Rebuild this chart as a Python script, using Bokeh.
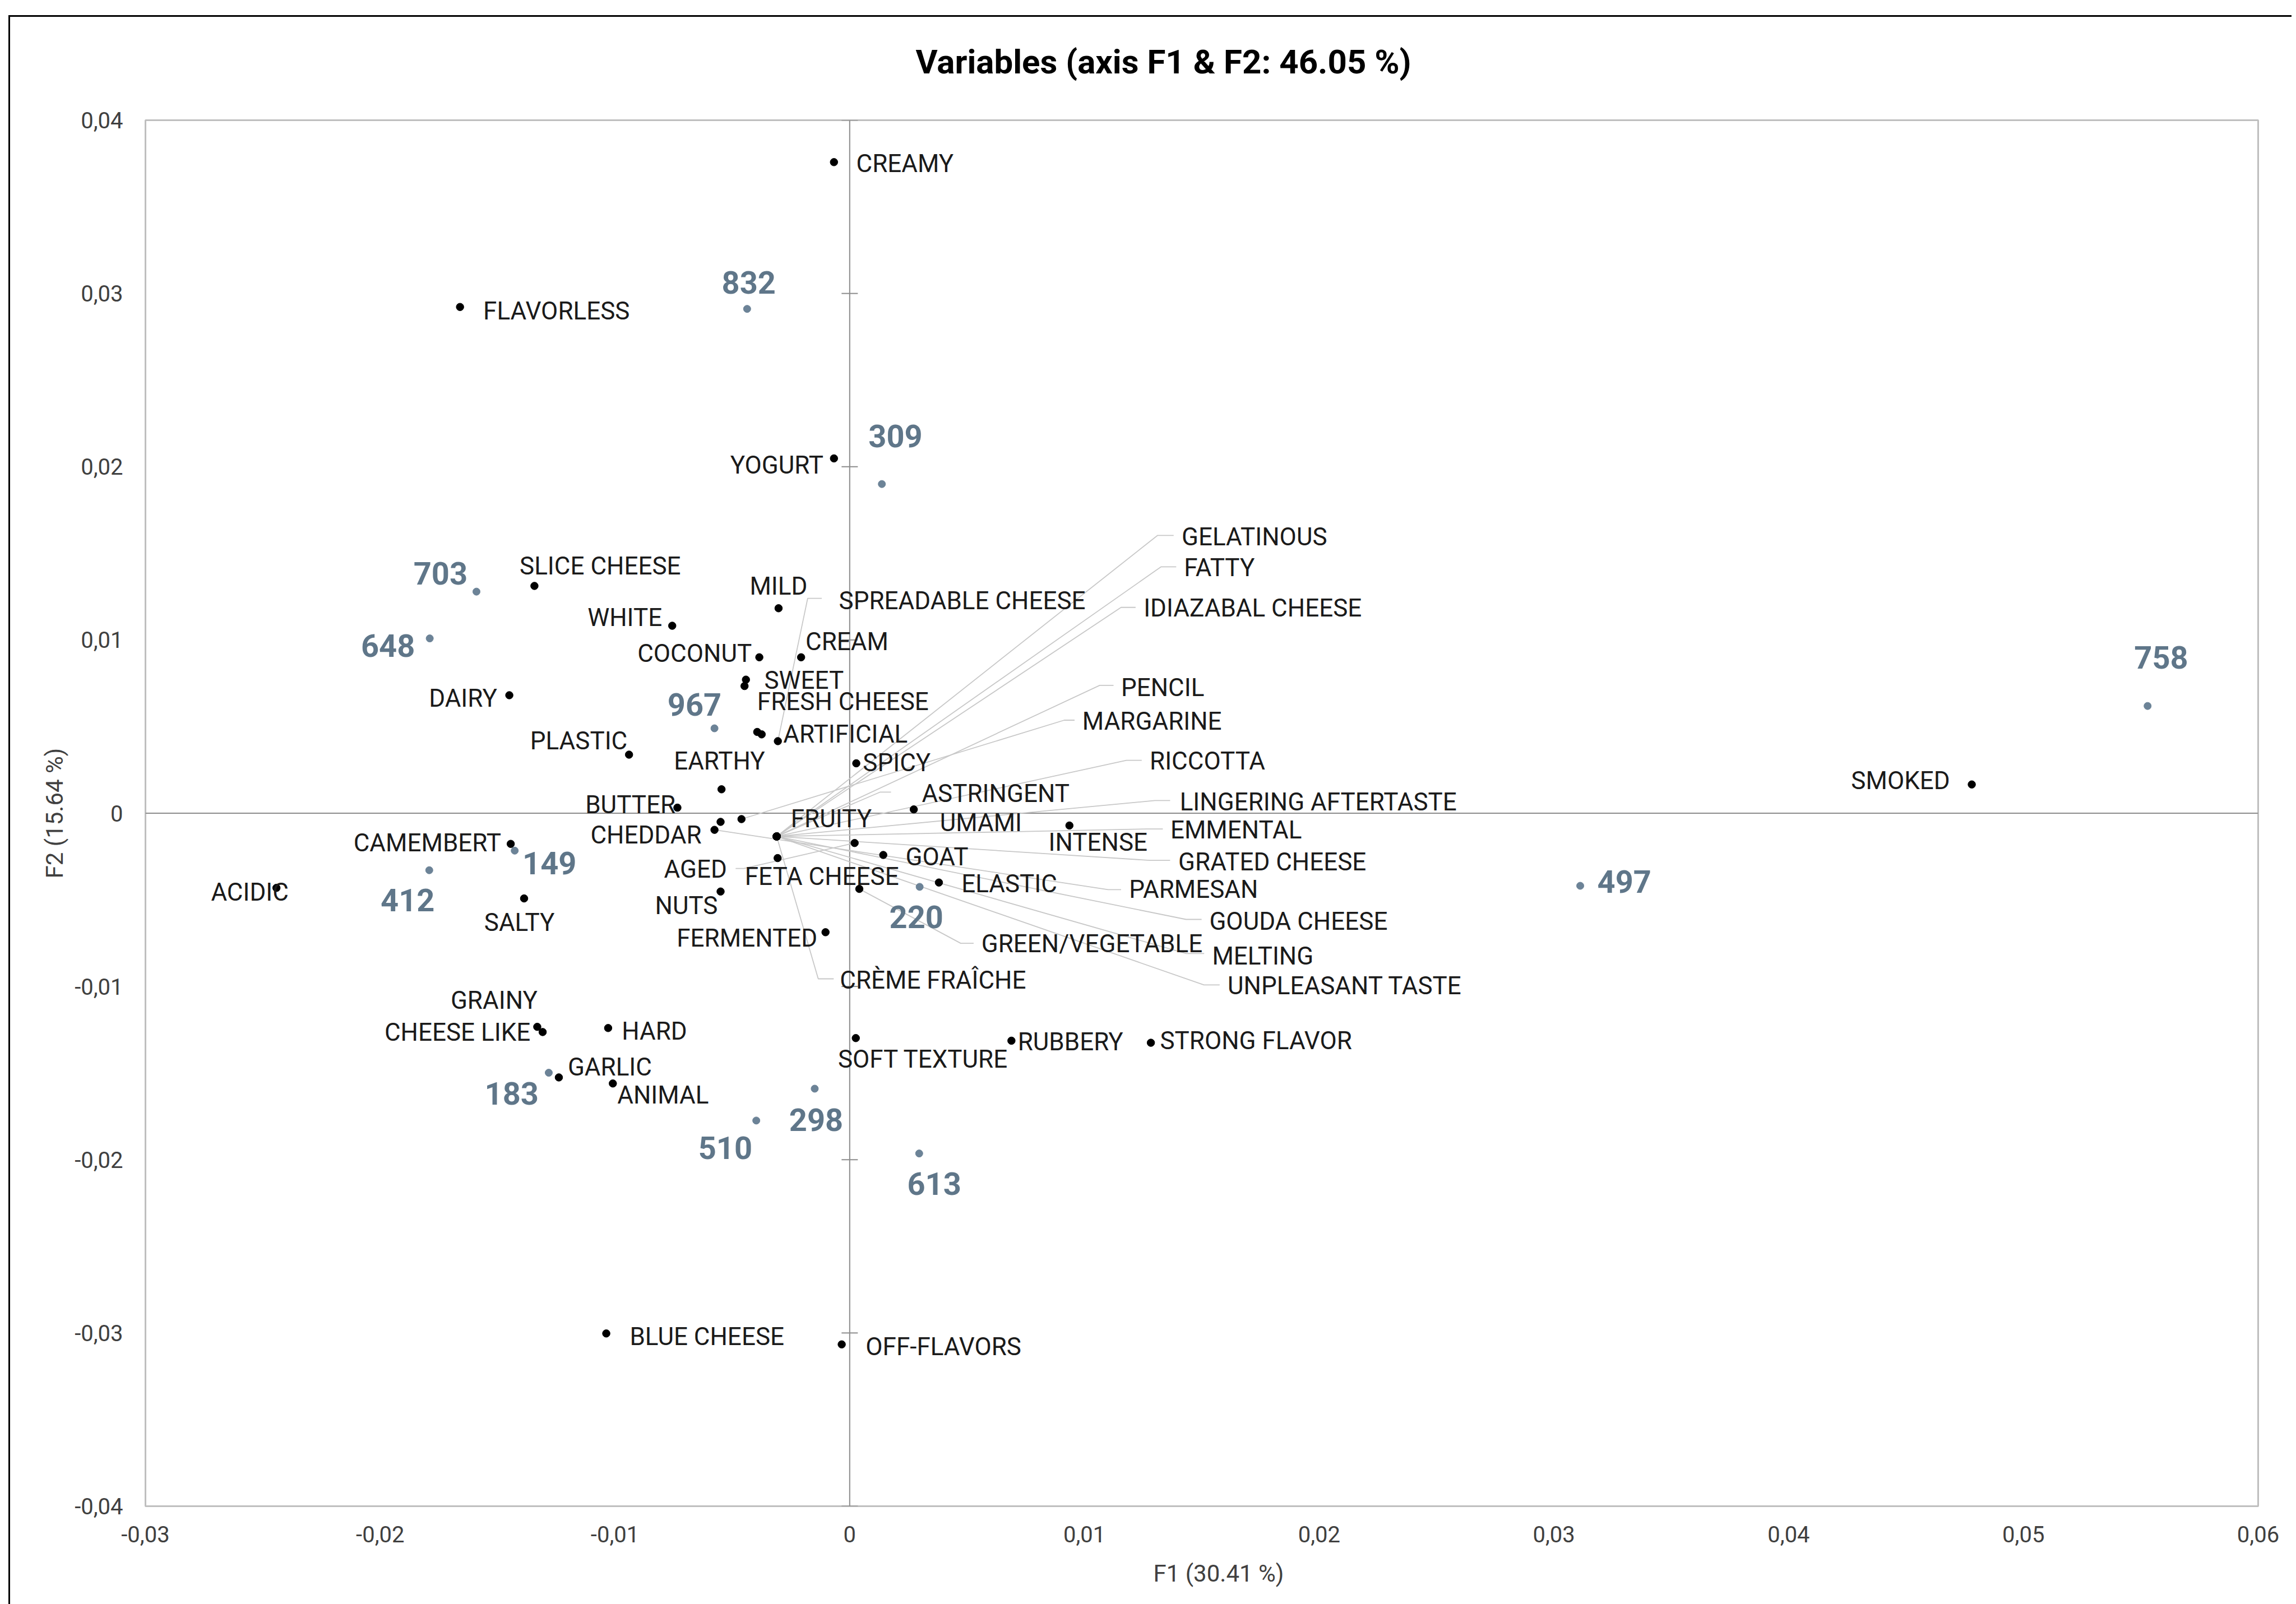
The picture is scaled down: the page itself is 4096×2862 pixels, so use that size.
from bokeh.plotting import figure
from bokeh.models import (ColumnDataSource, Span, FixedTicker,
                          CustomJSTickFormatter, Range1d, Title)
from bokeh.core.properties import value
from bokeh.embed import file_html
from bokeh.resources import INLINE

# ---------------- data ----------------
title_text = "Variables (axis F1 & F2: 46.05 %)"
x_title = "F1  (30.41 %)"
y_title = "F2 (15.64 %)"

x_ticks = [-0.03, -0.02, -0.01, 0.0, 0.01, 0.02, 0.03, 0.04, 0.05, 0.06]
y_ticks = [-0.04, -0.03, -0.02, -0.01, 0.0, 0.01, 0.02, 0.03, 0.04]

HUB = (-0.00311, -0.00134)   # many variables sit on this same spot

var_names = ["CREAMY", "FLAVORLESS", "YOGURT", "SLICE CHEESE", "MILD",
             "SPREADABLE CHEESE", "WHITE", "COCONUT", "CREAM", "SWEET",
             "FRESH CHEESE", "DAIRY", "ARTIFICIAL", "", "PLASTIC", "EARTHY",
             "SPICY", "BUTTER", "ASTRINGENT", "CHEDDAR", "FRUITY", "UMAMI",
             "INTENSE", "CAMEMBERT", "GOAT", "AGED", "FETA CHEESE", "ELASTIC",
             "ACIDIC", "SALTY", "NUTS", "FERMENTED", "CRÈME FRAÎCHE",
             "GELATINOUS", "FATTY", "IDIAZABAL CHEESE", "PENCIL", "MARGARINE",
             "RICCOTTA", "LINGERING AFTERTASTE", "EMMENTAL", "GRATED CHEESE",
             "PARMESAN", "GOUDA CHEESE", "GREEN/VEGETABLE", "MELTING",
             "UNPLEASANT TASTE", "SMOKED", "GRAINY", "CHEESE LIKE", "HARD",
             "GARLIC", "ANIMAL", "SOFT TEXTURE", "RUBBERY", "STRONG FLAVOR",
             "BLUE CHEESE", "OFF-FLAVORS"]
var_f1 = [-0.00067, -0.01660, -0.00067, -0.01343, -0.00303,
          -0.00306, -0.00756, -0.00385, -0.00207, -0.00442,
          -0.00448, -0.01450, -0.00375, -0.00394, -0.00940, -0.00546,
          0.00028, -0.00734, HUB[0], -0.00550, HUB[0], 0.00273,
          0.00936, -0.01444, 0.00143, 0.00021, -0.00307, 0.00380,
          -0.02442, -0.01387, -0.00550, -0.00103, HUB[0],
          HUB[0], HUB[0], HUB[0], HUB[0], -0.00461,
          HUB[0], HUB[0], HUB[0], HUB[0],
          -0.00576, HUB[0], 0.00041, HUB[0],
          HUB[0], 0.04780, -0.01331, -0.01308, -0.01029,
          -0.01239, -0.01009, 0.00026, 0.00689, 0.01283,
          -0.01037, -0.00034]
var_f2 = [0.03758, 0.02922, 0.02048, 0.01312, 0.01183,
          0.00416, 0.01082, 0.00900, 0.00900, 0.00771,
          0.00734, 0.00681, 0.00455, 0.00469, 0.00338, 0.00138,
          0.00288, 0.00032, HUB[1], -0.00050, HUB[1], 0.00022,
          -0.00071, -0.00177, -0.00241, -0.00172, -0.00259, -0.00400,
          -0.00431, -0.00492, -0.00452, -0.00687, HUB[1],
          HUB[1], HUB[1], HUB[1], HUB[1], -0.00034,
          HUB[1], HUB[1], HUB[1], HUB[1],
          -0.00096, HUB[1], -0.00437, HUB[1],
          HUB[1], 0.00166, -0.01233, -0.01263, -0.01240,
          -0.01525, -0.01560, -0.01298, -0.01313, -0.01325,
          -0.03003, -0.03066]

obs_names = ["832", "309", "703", "648", "967", "149", "412", "220",
             "183", "510", "298", "613", "758", "497"]
obs_f1 = [-0.00437, 0.00137, -0.01590, -0.01789, -0.00576, -0.01427,
          -0.01791, 0.00298, -0.01282, -0.00398, -0.00149, 0.00296,
          0.05529, 0.03112]
obs_f2 = [0.02911, 0.01900, 0.01279, 0.01009, 0.00490, -0.00216,
          -0.00329, -0.00425, -0.01498, -0.01774, -0.01590, -0.01964,
          0.00619, -0.00419]

# ---------------- label layout (where each name is written) ----------------
# name: (label x, label y, alignment)
var_label_at = {
    "CREAMY": (0.00028, 0.03750, "left"),
    "FLAVORLESS": (-0.01561, 0.02898, "left"),
    "YOGURT": (-0.00112, 0.02009, "right"),
    "SLICE CHEESE": (-0.01406, 0.01427, "left"),
    "MILD": (-0.00426, 0.01309, "left"),
    "SPREADABLE CHEESE": (-0.00046, 0.01227, "left"),
    "WHITE": (-0.00799, 0.01128, "right"),
    "COCONUT": (-0.00417, 0.00922, "right"),
    "CREAM": (-0.00188, 0.00991, "left"),
    "SWEET": (-0.00364, 0.00766, "left"),
    "FRESH CHEESE": (-0.00394, 0.00644, "left"),
    "DAIRY": (-0.01502, 0.00663, "right"),
    "ARTIFICIAL": (-0.00283, 0.00455, "left"),
    "PLASTIC": (-0.00947, 0.00416, "right"),
    "EARTHY": (-0.00555, 0.00300, "center"),
    "SPICY": (0.00056, 0.00291, "left"),
    "BUTTER": (-0.00742, 0.00047, "right"),
    "ASTRINGENT": (0.00307, 0.00113, "left"),
    "CHEDDAR": (-0.00631, -0.00125, "right"),
    "FRUITY": (-0.00251, -0.00031, "left"),
    "UMAMI": (0.00384, -0.00056, "left"),
    "INTENSE": (0.00847, -0.00169, "left"),
    "CAMEMBERT": (-0.01485, -0.00171, "right"),
    "GOAT": (0.00238, -0.00253, "left"),
    "AGED": (-0.00523, -0.00322, "right"),
    "FETA CHEESE": (-0.00447, -0.00366, "left"),
    "ELASTIC": (0.00476, -0.00409, "left"),
    "ACIDIC": (-0.02390, -0.00456, "right"),
    "SALTY": (-0.01407, -0.00630, "center"),
    "NUTS": (-0.00562, -0.00534, "right"),
    "FERMENTED": (-0.00138, -0.00722, "right"),
    "CRÈME FRAÎCHE": (-0.00042, -0.00963, "left"),
    "GELATINOUS": (0.01414, 0.01595, "left"),
    "FATTY": (0.01424, 0.01417, "left"),
    "IDIAZABAL CHEESE": (0.01252, 0.01184, "left"),
    "PENCIL": (0.01156, 0.00725, "left"),
    "MARGARINE": (0.00991, 0.00532, "left"),
    "RICCOTTA": (0.01278, 0.00300, "left"),
    "LINGERING AFTERTASTE": (0.01406, 0.00066, "left"),
    "EMMENTAL": (0.01366, -0.00098, "left"),
    "GRATED CHEESE": (0.01400, -0.00280, "left"),
    "PARMESAN": (0.01190, -0.00441, "left"),
    "GOUDA CHEESE": (0.01532, -0.00624, "left"),
    "GREEN/VEGETABLE": (0.00561, -0.00753, "left"),
    "MELTING": (0.01544, -0.00824, "left"),
    "UNPLEASANT TASTE": (0.01610, -0.00995, "left"),
    "SMOKED": (0.04687, 0.00188, "right"),
    "GRAINY": (-0.01330, -0.01080, "right"),
    "CHEESE LIKE": (-0.01360, -0.01264, "right"),
    "HARD": (-0.00971, -0.01259, "left"),
    "GARLIC": (-0.01201, -0.01466, "left"),
    "ANIMAL": (-0.00990, -0.01627, "left"),
    "SOFT TEXTURE": (-0.00050, -0.01421, "left"),
    "RUBBERY": (0.00716, -0.01319, "left"),
    "STRONG FLAVOR": (0.01322, -0.01313, "left"),
    "BLUE CHEESE": (-0.00937, -0.03021, "left"),
    "OFF-FLAVORS": (0.00068, -0.03080, "left"),
}
# leader lines: name: (elbow x, elbow y, end of the short horizontal stub)
leader_at = {
    "SPREADABLE CHEESE": (-0.00179, 0.01240, -0.00119),
    "ASTRINGENT": (0.00130, 0.00122, 0.00176),
    "AGED": (-0.00451, -0.00319, -0.00486),
    "CRÈME FRAÎCHE": (-0.00134, -0.00956, -0.00068),
    "GELATINOUS": (0.01311, 0.01603, 0.01380),
    "FATTY": (0.01326, 0.01422, 0.01391),
    "IDIAZABAL CHEESE": (0.01156, 0.01188, 0.01218),
    "PENCIL": (0.01065, 0.00738, 0.01124),
    "MARGARINE": (0.00914, 0.00537, 0.00958),
    "RICCOTTA": (0.01179, 0.00305, 0.01244),
    "LINGERING AFTERTASTE": (0.01300, 0.00073, 0.01365),
    "EMMENTAL": (0.01267, -0.00091, 0.01334),
    "GRATED CHEESE": (0.01278, -0.00272, 0.01365),
    "PARMESAN": (0.01101, -0.00441, 0.01156),
    "GOUDA CHEESE": (0.01433, -0.00613, 0.01499),
    "GREEN/VEGETABLE": (0.00473, -0.00751, 0.00528),
    "MELTING": (0.01433, -0.00810, 0.01510),
    "UNPLEASANT TASTE": (0.01509, -0.00991, 0.01576),
}
obs_label_at = {
    "832": (-0.00430, 0.03064), "309": (0.00195, 0.02178),
    "703": (-0.01743, 0.01383), "648": (-0.01967, 0.00966),
    "967": (-0.00661, 0.00628), "149": (-0.01279, -0.00289),
    "412": (-0.01883, -0.00500), "220": (0.00284, -0.00597),
    "183": (-0.01440, -0.01618), "510": (-0.00530, -0.01931),
    "298": (-0.00143, -0.01771), "613": (0.00360, -0.02138),
    "758": (0.05587, 0.00898), "497": (0.03300, -0.00394),
}

# ---------------- geometry ----------------
W, H = 4088, 2862
BL, BT = 259, 214
FR_R, FR_B = 4028, 2687
BR, BB = W - FR_R, H - FR_B
XR = (x_ticks[0], x_ticks[-1])
YR = (y_ticks[0], y_ticks[-1])

FONT = "Roboto"
OBS_COLOR = "#5F7689"
AX_TEXT = "#404040"

p = figure(width=W, height=H, output_backend="svg", toolbar_location=None,
           x_range=Range1d(*XR), y_range=Range1d(*YR),
           min_border_left=BL, min_border_right=BR,
           min_border_top=BT, min_border_bottom=BB)
p.background_fill_color = "white"
p.border_fill_color = None
# outer chart frame (left and top edges visible in the original)
p.styles = {"background": "linear-gradient(#000, #000) 15px 27px / 3px 100% no-repeat, "
                          "linear-gradient(#000, #000) 15px 27px / 100% 3px no-repeat, #ffffff"}
p.outline_line_color = "#BFBFBF"
p.outline_line_width = 3
p.xgrid.visible = False
p.ygrid.visible = False

# title
p.title.text = title_text
p.title.align = "left"
p.title.offset = 1633 - BL
p.title.standoff = 138
p.title.text_font = FONT
p.title.text_font_size = "60px"
p.title.text_font_style = "bold"
p.title.text_color = "black"

fmt = CustomJSTickFormatter(code="""
    if (Math.abs(tick) < 1e-9) { return '0'; }
    return tick.toFixed(2).replace('.', ',');
""")
for ax, ticks, standoff in ((p.xaxis, x_ticks, 35), (p.yaxis, y_ticks, 40)):
    ax.ticker = FixedTicker(ticks=ticks)
    ax.formatter = fmt
    ax.axis_line_color = None
    ax.major_tick_line_color = None
    ax.minor_tick_line_color = None
    ax.major_tick_in = 0
    ax.major_tick_out = 0
    ax.major_label_standoff = standoff
    ax.major_label_text_font = FONT
    ax.major_label_text_font_size = "40px"
    ax.major_label_text_color = AX_TEXT

p.yaxis.axis_label = y_title
p.yaxis.axis_label_standoff = 8
p.yaxis.axis_label_text_font = FONT
p.yaxis.axis_label_text_font_size = "42px"
p.yaxis.axis_label_text_font_style = "normal"
p.yaxis.axis_label_text_color = AX_TEXT

# x-axis title, placed under the tick labels
p.add_layout(Title(text=x_title, align="left", offset=2057 - BL,
                   vertical_align="top", standoff=56, text_font=FONT,
                   text_font_size="42px", text_font_style="normal",
                   text_color=AX_TEXT), "below")

# zero lines with their cross ticks
for dim in ("height", "width"):
    p.add_layout(Span(location=0, dimension=dim, line_color="#8C8C8C",
                      line_width=2, level="underlay"))
p.scatter(x=[0] * len(y_ticks), y=y_ticks, marker="dash", size=29,
          line_color="#8C8C8C", line_width=2, level="underlay")

# leader lines
lx_list, ly_list = [], []
for n, x, y in zip(var_names, var_f1, var_f2):
    if n in leader_at:
        ex, ey, sx = leader_at[n]
        lx_list.append([x, ex, sx])
        ly_list.append([y, ey, ey])
p.multi_line(xs=lx_list, ys=ly_list, line_color="#C8C8C8", line_width=1.8)

# points
p.scatter(x=obs_f1, y=obs_f2, size=13, fill_color="#6C8397",
          line_color="#6C8397")
p.scatter(x=var_f1, y=var_f2, size=13.5, fill_color="black",
          line_color="black")

# variable labels, grouped by alignment
for align in ("left", "right", "center"):
    rows = [(var_label_at[n][0], var_label_at[n][1], n) for n in var_names
            if n in var_label_at and var_label_at[n][2] == align]
    src = ColumnDataSource(dict(x=[r[0] for r in rows], y=[r[1] for r in rows],
                                t=[r[2] for r in rows]))
    p.text(x="x", y="y", text="t", source=src, text_font=value(FONT),
           text_font_size=value("44px"), text_align=align,
           text_baseline="middle", text_color="#1A1A1A")

# observation labels
osrc = ColumnDataSource(dict(x=[obs_label_at[n][0] for n in obs_names],
                             y=[obs_label_at[n][1] for n in obs_names],
                             t=obs_names))
p.text(x="x", y="y", text="t", source=osrc, text_font=value(FONT),
       text_font_size=value("56px"), text_font_style="bold",
       text_align="center", text_baseline="middle", text_color=OBS_COLOR)

open("out.html", "w").write(file_html(p, INLINE))
